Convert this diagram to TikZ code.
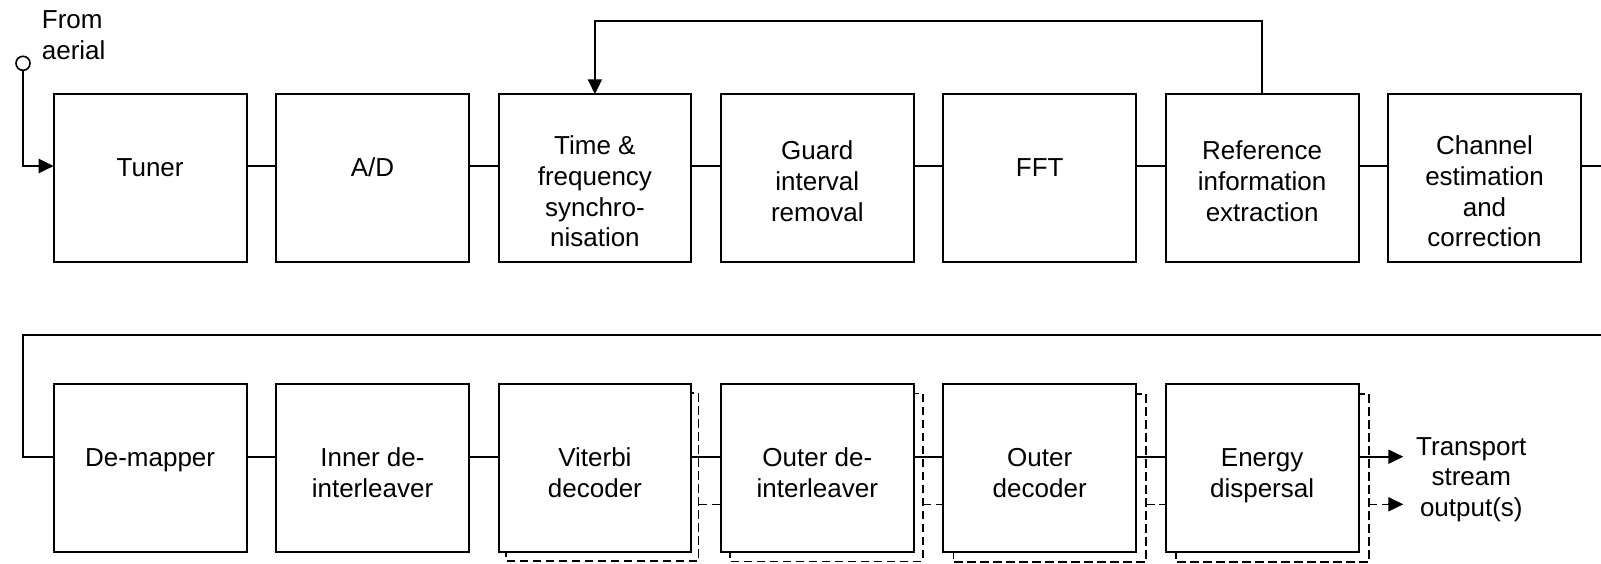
\documentclass[tikz,border=0pt]{standalone}
\usepackage{fontspec}
\setmainfont{Liberation Sans}
\usetikzlibrary{arrows.meta,calc,backgrounds}
\begin{document}
\begin{tikzpicture}[x=1pt,y=1pt,
  box/.style={draw, line width=2pt, fill=white, minimum width=192.8pt, minimum height=168pt, inner sep=0pt, outer sep=0pt},
  lbl/.style={font=\fontsize{26pt}{30.6pt}\selectfont, align=center, inner sep=0pt, anchor=base},
  conn/.style={line width=2pt},
  arr/.style={conn, -{Triangle[length=15pt,width=14pt]}},
  shad/.style={line width=1.6pt, dash pattern=on 8.5pt off 4.5pt},
]
\useasboundingbox (0,0) rectangle (1601,563);
% row 1
\node[box] (tuner) at (150.1,384.7) {};
\node[box] (ad)    at (372.5,384.7) {};
\node[box] (time)  at (594.9,384.7) {};
\node[box] (guard) at (817.3,384.7) {};
\node[box] (fft)   at (1039.7,384.7) {};
\node[box] (ref)   at (1262.1,384.7) {};
\node[box] (chan)  at (1484.5,384.7) {};
% row 2
\node[box] (demap) at (150.1,95.3) {};
\node[box] (idi)   at (372.5,95.3) {};
\node[box] (vit)   at (594.9,95.3) {};
\node[box] (odi)   at (817.3,95.3) {};
\node[box] (odec)  at (1039.7,95.3) {};
\node[box] (ener)  at (1262.1,95.3) {};
% labels row 1 (anchor = baseline of last line)
\node[lbl] (tunerT) at ([yshift=1.6pt]tuner.center) {Tuner};
\node[lbl] (adT)    at ([yshift=1.6pt]ad.center) {A/D};
\node[lbl] (timeT)  at ([yshift=-68.5pt]time.center) {Time \&\\frequency\\synchro-\\nisation};
\node[lbl] (guardT) at ([yshift=-42.9pt]guard.center) {Guard\\interval\\removal};
\node[lbl] (fftT)   at ([yshift=1.6pt]fft.center) {FFT};
\node[lbl] (refT)   at ([yshift=-42.9pt]ref.center) {Reference\\information\\extraction};
\node[lbl] (chanT)  at ([yshift=-68.5pt]chan.center) {Channel\\estimation\\and\\correction};
% labels row 2
\node[lbl] (demapT) at ([yshift=1pt]demap.center) {De-mapper};
\node[lbl] (idiT)   at ([yshift=-29.6pt]idi.center) {Inner de-\\interleaver};
\node[lbl] (vitT)   at ([yshift=-29.6pt]vit.center) {Viterbi\\decoder};
\node[lbl] (odiT)   at ([yshift=-29.6pt]odi.center) {Outer de-\\interleaver};
\node[lbl] (odecT)  at ([yshift=-29.6pt]odec.center) {Outer\\decoder};
\node[lbl] (enerT)  at ([yshift=-29.6pt]ener.center) {Energy\\dispersal};
% aerial
\node[draw, circle, line width=1.6pt, minimum size=14pt, inner sep=0pt] (aerial) at (23,499.7) {};
\node[lbl, align=left, anchor=base west] (fromT) at (41.7,503.7) {From\\aerial};
\node[lbl] (tsT) at (1471.3,46.8) {Transport\\stream\\output(s)};
% coordinates
\coordinate (fb) at (0,542);
\coordinate (re1) at (1601,397);
\coordinate (re2) at (1601,228);
\coordinate (lw) at (22.7,228);
\coordinate (out1) at (1403.3,106.3);
\coordinate (out2) at (1403.3,58.7);
\coordinate (out2b) at (1388.3,58.7);
% connectors
\draw[arr] (aerial.south) |- ([yshift=12.3pt]tuner.west);
\foreach \a/\b in {tuner/ad, ad/time, time/guard, guard/fft, fft/ref, ref/chan}
  \draw[conn] ([yshift=12.3pt]\a.east) -- ([yshift=12.3pt]\b.west);
\draw[conn] ([yshift=12.3pt]chan.east) -- (re1);
\draw[arr] (ref.north) -- (ref.north |- fb) -| (time.north);
\draw[conn] (re2) -- (lw) |- ([yshift=11pt]demap.west);
\foreach \a/\b in {demap/idi, idi/vit, vit/odi, odi/odec, odec/ener}
  \draw[conn] ([yshift=11pt]\a.east) -- ([yshift=11pt]\b.west);
\draw[arr] ([yshift=11pt]ener.east) -- (out1);
\draw[arr] (out2b) -- (out2);
% shadows
\begin{scope}[on background layer]
\foreach \n/\dx/\dy in {vit/7.2/9, odi/9/9.8, odec/10/10.4, ener/10.4/10.4}
  \draw[shad] ([shift={(\dx pt,-\dy pt)}]\n.north west) rectangle ([shift={(\dx pt,-\dy pt)}]\n.south east);
\draw[shad] ([shift={(7.2pt,-36.6pt)}]vit.east) -- ([yshift=-36.6pt]odi.west);
\draw[shad] ([shift={(9pt,-36.6pt)}]odi.east) -- ([yshift=-36.6pt]odec.west);
\draw[shad] ([shift={(10pt,-36.6pt)}]odec.east) -- ([yshift=-36.6pt]ener.west);
\draw[shad] ([shift={(10.4pt,-36.6pt)}]ener.east) -- (out2b);
\end{scope}
\end{tikzpicture}
\end{document}
